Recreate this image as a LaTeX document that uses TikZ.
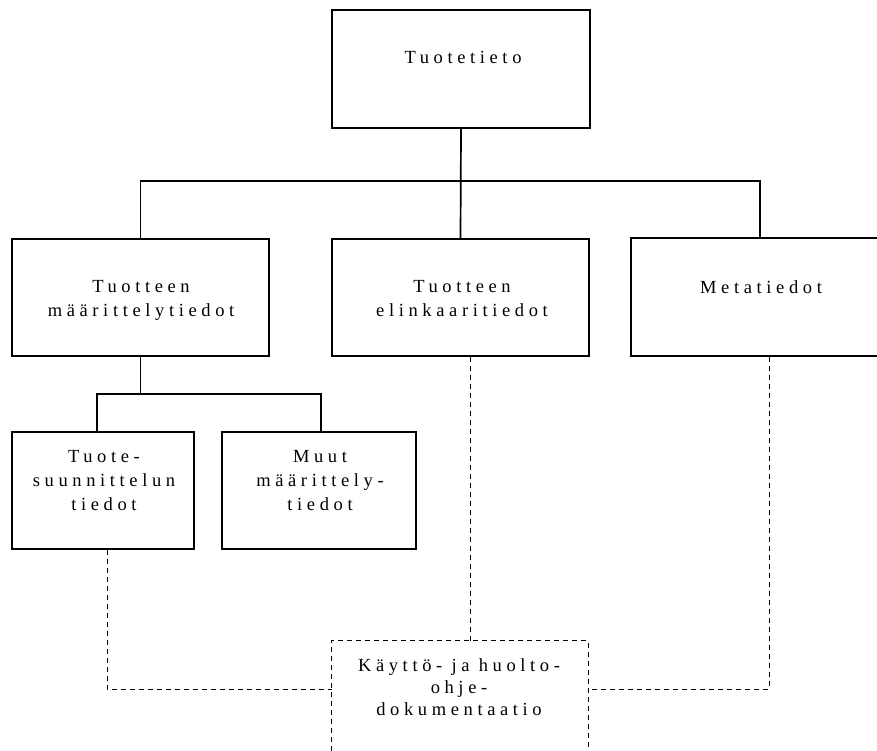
\documentclass[tikz,border=0pt]{standalone}
\usepackage{fontspec}
\setmainfont{Liberation Serif}[LetterSpace=25]
\begin{document}
\begin{tikzpicture}[x=1pt,y=-1pt,
  box/.style={draw, line width=1.8pt, inner sep=0pt},
  txt/.style={anchor=north, inner sep=0pt, align=center, font=\fontsize{18.5}{24}\selectfont},
  conn/.style={line width=1.7pt},
  dashconn/.style={line width=0.9pt, dash pattern=on 5pt off 4pt}]
\useasboundingbox (0,0) rectangle (877,751);
\clip (0,0) rectangle (877,751);
% boxes
\node[box, minimum width=258pt, minimum height=118pt] (top) at (461,69) {};
\node[box, minimum width=257pt, minimum height=117pt] (left) at (140.5,297.5) {};
\node[box, minimum width=257pt, minimum height=117pt] (mid) at (460.5,297.5) {};
\node[box, minimum width=258pt, minimum height=118pt] (meta) at (760,297) {};
\node[box, minimum width=182pt, minimum height=117pt] (ts) at (103,490.5) {};
\node[box, minimum width=194pt, minimum height=117pt] (mu) at (319,490.5) {};
\node[inner sep=0pt, minimum width=256pt, minimum height=110pt] (doc) at (460,696) {};
\draw[dashconn] (doc.south west) -- (doc.north west) -- (doc.north east) -- (doc.south east);
% texts
\node[txt] (ttop) at (463,51) {Tuotetieto};
\node[txt] (tleft) at (141,280) {Tuotteen\\määrittelytiedot};
\node[txt] (tmid) at (462,280) {Tuotteen\\elinkaaritiedot};
\node[txt] (tmeta) at (761,280) {Metatiedot};
\node[txt] (tts) at (104,450) {Tuote-\\suunnittelun\\tiedot};
\node[txt] (tmu) at (320,450) {Muut\\määrittely-\\tiedot};
\node[txt, font=\fontsize{18.5}{22}\selectfont] (tdoc) at (459,658) {Käyttö- ja huolto-\\ohje-\\dokumentaatio};
% solid connectors
\coordinate (bar) at (461,181);
\coordinate (bar2) at (140,394);
\draw[conn] (top.south) -- (mid.north);
\draw[conn] (left.north) |- (meta.north |- bar) -- (meta.north);
\draw[conn] (left.south) -- (left.south |- bar2);
\draw[conn] ([xshift=-6pt]ts.north) |- ([xshift=2pt]mu.north |- bar2) -- ([xshift=2pt]mu.north);
% dashed connectors
\coordinate (dl) at (107,689);
\coordinate (dr) at (769,689);
\draw[dashconn] (ts.south -| dl) -- (dl) -- (dl -| doc.west);
\draw[dashconn] ([xshift=9.5pt]mid.south) -- ([xshift=9.5pt]mid.south |- doc.north);
\draw[dashconn] (meta.south -| dr) -- (dr) -- (dr -| doc.east);
\end{tikzpicture}
\end{document}
